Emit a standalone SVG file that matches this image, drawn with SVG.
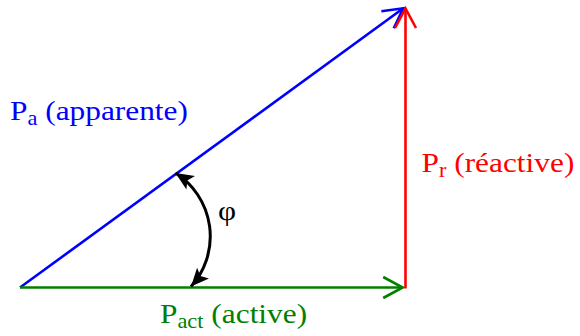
<svg xmlns="http://www.w3.org/2000/svg" width="580" height="336" viewBox="0 0 580 336">
<style>
.lbl{font-family:"Liberation Serif","Times New Roman",serif;font-size:28px}
.sub{font-size:20px}
.vec{fill:none;stroke-width:2.6}
</style>
<defs>
<marker id="hb" markerUnits="userSpaceOnUse" viewBox="-22 -13 24 26" refX="0" refY="0" markerWidth="24" markerHeight="26" orient="auto" overflow="visible">
<path d="M-19.5,-10.5 L0,0 L-19.5,10.5" fill="none" stroke="#0000FF" stroke-width="2.6"/>
</marker>
<marker id="hr" markerUnits="userSpaceOnUse" viewBox="-22 -13 24 26" refX="0" refY="0" markerWidth="24" markerHeight="26" orient="auto" overflow="visible">
<path d="M-19.5,-10.5 L0,0 L-19.5,10.5" fill="none" stroke="#FF0000" stroke-width="2.6"/>
</marker>
<marker id="hg" markerUnits="userSpaceOnUse" viewBox="-22 -13 24 26" refX="0" refY="0" markerWidth="24" markerHeight="26" orient="auto" overflow="visible">
<path d="M-19.5,-10.5 L0,0 L-19.5,10.5" fill="none" stroke="#008000" stroke-width="2.6"/>
</marker>
<marker id="hk" markerUnits="userSpaceOnUse" viewBox="-20 -10 22 20" refX="0" refY="0" markerWidth="22" markerHeight="20" orient="auto-start-reverse" overflow="visible">
<path d="M0,0 L-18,-8 L-14,0 L-18,8 Z" fill="#000"/>
</marker>
</defs>
<g id="connectors">
<line id="p-apparente" class="vec" x1="20" y1="287.5" x2="403.3" y2="8.3" stroke="#0000FF" marker-end="url(#hb)"/>
<line id="p-reactive" class="vec" x1="405.5" y1="288.5" x2="405.5" y2="8.5" stroke="#FF0000" marker-end="url(#hr)"/>
<line id="p-active" class="vec" x1="20" y1="287.5" x2="402.7" y2="287.5" stroke="#008000" marker-end="url(#hg)"/>
<path id="phi-arc" d="M175.5,173 A75,75 0 0 1 191,286.5" fill="none" stroke="#000" stroke-width="3" marker-start="url(#hk)" marker-end="url(#hk)"/>
</g>
<g id="label-pa">
<text class="lbl" fill="#0000FF" transform="translate(10,119.5) scale(1.12,1)">P<tspan class="sub" dy="5">a</tspan><tspan dy="-5"> (apparente)</tspan></text>
</g>
<g id="label-pr">
<text class="lbl" fill="#FF0000" transform="translate(421.5,171.7) scale(1.12,1)">P<tspan class="sub" dy="5">r</tspan><tspan dy="-5"> (réactive)</tspan></text>
</g>
<g id="label-pact">
<text class="lbl" fill="#008000" transform="translate(160,323) scale(1.12,1)">P<tspan class="sub" dy="5">act</tspan><tspan dy="-5"> (active)</tspan></text>
</g>
<g id="label-phi">
<text class="lbl" fill="#000" transform="translate(218,220) scale(1.12,1)">φ</text>
</g>
</svg>
